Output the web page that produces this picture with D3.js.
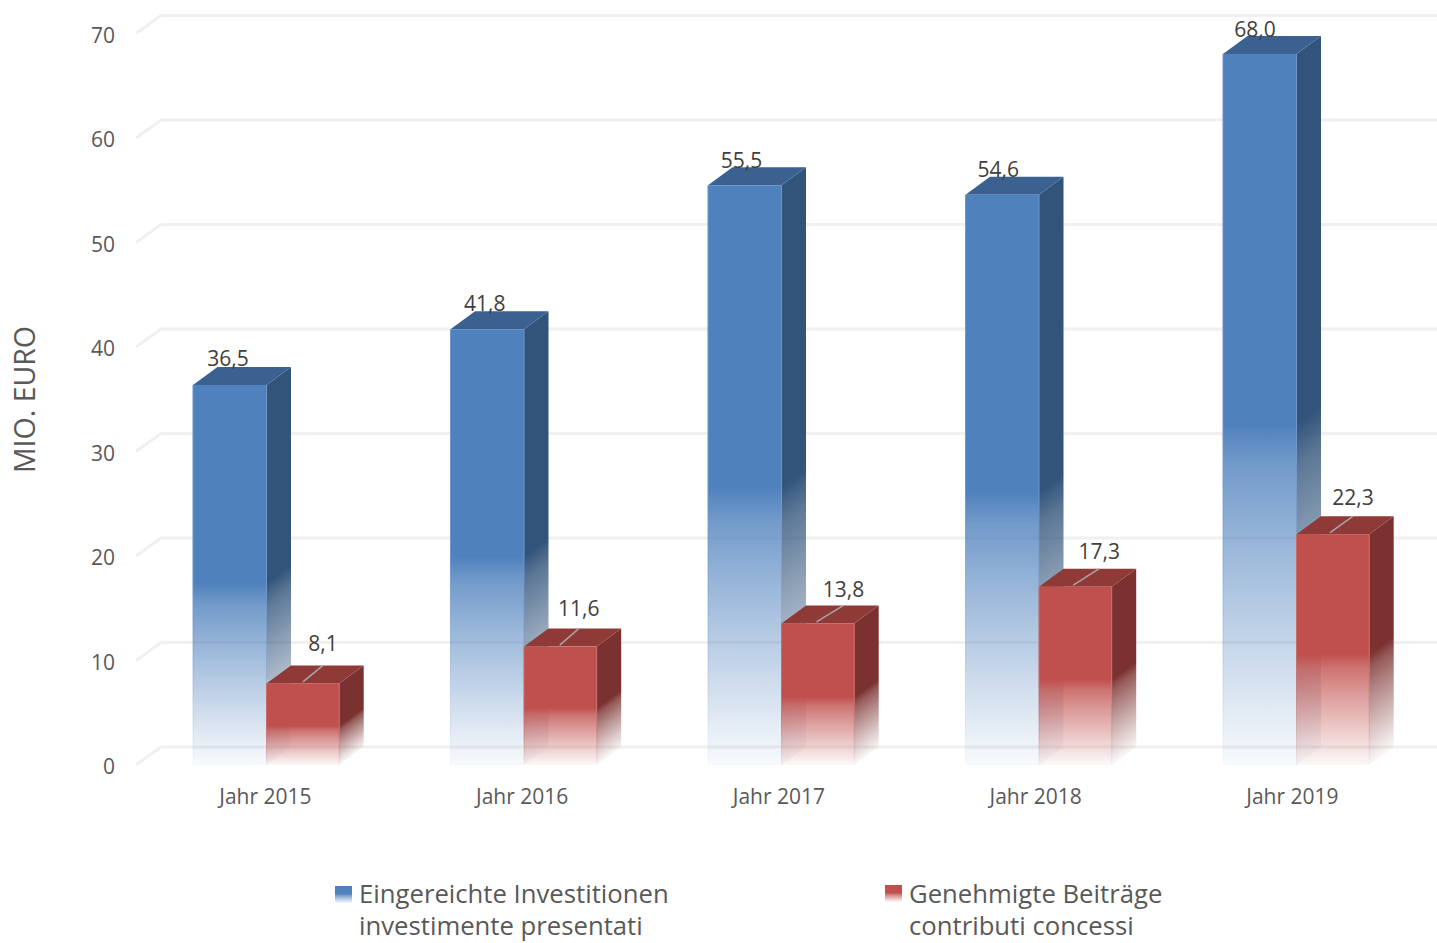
<!DOCTYPE html>
<html><head><meta charset="utf-8">
<script src="https://cdn.jsdelivr.net/npm/d3@7"></script>
<style>html,body{margin:0;padding:0;background:#fff;overflow:hidden}svg{display:block}text{font-family:"Open Sans",sans-serif}</style>
</head><body><svg id="c" width="1437" height="943"></svg>
<script>
const categories = ["Jahr 2015","Jahr 2016","Jahr 2017","Jahr 2018","Jahr 2019"];
const invested = [36.5,41.8,55.5,54.6,68.0];
const granted = [8.1,11.6,13.8,17.3,22.3];
const yTicks = [0,10,20,30,40,50,60,70];
const legendBlue = ["Eingereichte Investitionen","investimente presentati"];
const legendRed = ["Genehmigte Beiträge","contributi concessi"];
const axisTitle = "MIO. EURO";

const dx = 24.5, dy = -18;
const svg = d3.select("#c");
const defs = svg.append("defs");
const x = d3.scaleBand().domain(categories).range([137.75,1425.25]).paddingInner(0.429).paddingOuter(0.2145);
const xLabel = d3.scaleBand().domain(categories).range([137,1420.8]);
const y = d3.scaleLinear().domain([0,70]).range([765,33.5]);
const yBar = d3.scaleLinear().domain([0,70]).range([768.5,32.9]);
const loc = d3.formatLocale({decimal:",",thousands:".",grouping:[3],currency:["","€"]});
const fmt = loc.format(".1f");
const bw = x.bandwidth()/2;
const center = d => xLabel(d)+xLabel.bandwidth()/2;
// hand-placed leader lines of the second series' labels
const leaderRun = [20,19,27,26,23];
const labelRise = [14,13,8,10,11];

const pal = {
  blue:{front:"#4f81bd",side:"#32547b",top:"#3b6191",stroke:"#6f97cb"},
  red:{front:"#c0504d",side:"#7a312f",top:"#8f3a37",stroke:"#c96a67"}
};
const fadeStops = [[0,1],[0.12,0.8],[0.35,0.58],[0.7,0.28],[0.92,0.1],[1,0.04]];

let gid = 0;
function fade(x1,y1,x2,y2,color){
  const id = "g"+(gid++);
  const g = defs.append("linearGradient").attr("id",id).attr("gradientUnits","userSpaceOnUse")
    .attr("x1",x1).attr("y1",y1).attr("x2",x2).attr("y2",y2);
  g.selectAll("stop").data(fadeStops).join("stop")
    .attr("offset",d=>d[0]).attr("stop-color",color).attr("stop-opacity",d=>d[1]);
  return `url(#${id})`;
}

// gridlines (floor + back wall)
const grid = svg.append("g");
grid.selectAll("path").data(yTicks).join("path")
  .attr("d",d=>d3.line()([[136,y(d)],[136+dx+0.5,y(d)+dy],[1437,y(d)+dy]]))
  .attr("fill","none").attr("stroke","#f0f0f0").attr("stroke-width",3);

// y axis
const ax = svg.append("g").attr("transform","translate(115,1.5)")
  .call(d3.axisLeft(y).tickValues(yTicks).tickSize(0).tickPadding(0).tickFormat(d3.format("d")));
ax.select(".domain").remove();
ax.selectAll("text").attr("font-family",'"Open Sans",sans-serif').attr("font-size",21).attr("fill","#595959").attr("dy","0.35em");

// x axis
const xa = svg.append("g").attr("transform","translate(0,797)")
  .call(d3.axisBottom(xLabel).tickSize(0).tickPadding(0));
xa.select(".domain").remove();
xa.selectAll("text").attr("font-family",'"Open Sans",sans-serif').attr("font-size",21).attr("fill","#595959").attr("dy","0.35em");

function bar(cat,v,offset,width,c){
  const l = x(cat)+offset, r = l+width, t = yBar(v), b = y(0), h = b-t, m = t+h*0.52;
  const g = svg.append("g");
  // side: fade isolines run along the depth direction
  const n = Math.hypot(dx,dy), ux = -dy/n, uy = dx/n, len = (b-m)*uy;
  g.append("path").attr("d",d3.line()([[r,t],[r+dx,t+dy],[r+dx,b+dy],[r,b]]))
    .attr("fill",fade(r,m,r+ux*len,m+uy*len,c.side));
  g.append("path").attr("d",d3.line()([[l,t],[l+dx,t+dy],[r+dx,t+dy],[r,t]])).attr("fill",c.top);
  g.append("rect").attr("x",l).attr("y",t).attr("width",width).attr("height",h)
    .attr("fill",fade(0,m,0,b,c.front));
  g.append("path").attr("d",d3.line()([[l,t],[l,b]])).attr("stroke",fade(0,m,0,b,c.stroke)).attr("stroke-width",1).attr("fill","none");
  g.append("path").attr("d",d3.line()([[r,t],[r,b]])).attr("stroke",fade(0,m,0,b,c.stroke)).attr("stroke-width",1).attr("fill","none");
}
categories.forEach((cat,i)=>{
  bar(cat,invested[i],0,bw,pal.blue);
  bar(cat,granted[i],bw,bw-0.8,pal.red);
});

// data labels
const lab = svg.append("g").attr("font-size",21).attr("fill","#404040").attr("text-anchor","middle");
lab.selectAll(".a").data(categories).join("text").attr("class","a")
  .attr("x",d=>center(d)-37.4).attr("y",(d,i)=>y(invested[i])-17.5)
  .text((d,i)=>fmt(invested[i]));
lab.selectAll(".b").data(categories).join("text").attr("class","b")
  .attr("x",(d,i)=>center(d)+37.6+leaderRun[i]).attr("y",(d,i)=>yBar(granted[i])+dy-labelRise[i])
  .text((d,i)=>fmt(granted[i]));
svg.append("g").selectAll("line").data(categories).join("line")
  .attr("x1",d=>center(d)+37.6).attr("y1",(d,i)=>yBar(granted[i])-1.5)
  .attr("x2",(d,i)=>center(d)+37.6+leaderRun[i]).attr("y2",(d,i)=>yBar(granted[i])+dy)
  .attr("stroke","#a6a6a6").attr("stroke-width",1.5);

// axis title
svg.append("text").attr("transform","translate(25,399.5) rotate(-90)").attr("text-anchor","middle")
  .attr("dy","0.35em").attr("font-size",28.5).attr("fill","#595959").text(axisTitle);

// legend
function legend(lx,tx,sy,lines,c){
  const g = svg.append("g");
  g.append("rect").attr("x",lx).attr("y",sy).attr("width",17).attr("height",17)
    .attr("fill",fade(0,sy+8,0,sy+17,c.front));
  g.selectAll("text").data(lines).join("text").attr("x",tx).attr("y",(d,i)=>903+i*32.3)
    .attr("font-size",25.7).attr("fill","#595959").text(d=>d);
}
legend(335,359,886,legendBlue,pal.blue);
legend(885,909,885,legendRed,pal.red);
</script></body></html>
